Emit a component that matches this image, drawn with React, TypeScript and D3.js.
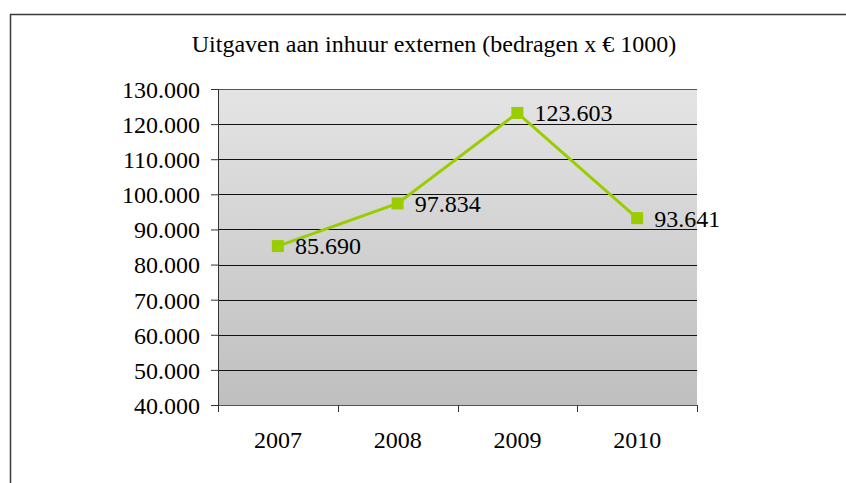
import React from "react";
import * as d3 from "d3";

const years = ["2007", "2008", "2009", "2010"];
const amounts = [85690, 97834, 123603, 93641];
const yTicks = [40000, 50000, 60000, 70000, 80000, 90000, 100000, 110000, 120000, 130000];
const title = "Uitgaven aan inhuur externen (bedragen x € 1000)";

const fmt = (v: number) => d3.format(",")(v).replace(/,/g, ".");

export default function App() {
  const svgRef = React.useRef<SVGSVGElement>(null);

  React.useEffect(() => {
    const width = 846;
    const height = 483;
    const left = 218;
    const right = 697;
    const top = 89;
    const bottom = 405;
    const font = "Liberation Serif";

    const svg = d3
      .select(svgRef.current)
      .attr("width", width)
      .attr("height", height)
      .style("font-family", font);
    svg.selectAll("*").remove();

    // background gradient for plot area
    const grad = svg
      .append("defs")
      .append("linearGradient")
      .attr("id", "plotBg")
      .attr("x1", 0)
      .attr("y1", 0)
      .attr("x2", 0)
      .attr("y2", 1);
    grad.append("stop").attr("offset", "0%").attr("stop-color", "#e4e4e4");
    grad.append("stop").attr("offset", "100%").attr("stop-color", "#bfbfbf");

    // outer chart border
    svg
      .append("path")
      .attr("d", `M10.5,${height} V14.5 H${width}`)
      .attr("fill", "none")
      .attr("stroke", "#3a3a3a")
      .attr("stroke-width", 1.5);

    // scales
    const x = d3.scaleBand().domain(years).range([left, right]);
    const y = d3.scaleLinear().domain([40000, 130000]).range([bottom, top]);

    svg
      .append("rect")
      .attr("x", left)
      .attr("y", top)
      .attr("width", right - left)
      .attr("height", bottom - top)
      .attr("fill", "url(#plotBg)");

    // gridlines
    svg
      .append("g")
      .selectAll("line")
      .data(yTicks.slice(1))
      .enter()
      .append("line")
      .attr("x1", left)
      .attr("x2", right)
      .attr("y1", (d) => Math.round(y(d)) + 0.5)
      .attr("y2", (d) => Math.round(y(d)) + 0.5)
      .attr("stroke", (d) => (d === 130000 ? "#555" : "#111"))
      .attr("stroke-width", 1);

    // y axis
    const yAxis = d3
      .axisLeft(y)
      .tickValues(yTicks)
      .tickSize(7)
      .tickPadding(11)
      .tickFormat((d) => fmt(d as number));
    const gy = svg.append("g").attr("transform", `translate(${left},0)`).call(yAxis);
    gy.attr("font-family", font).attr("font-size", 24);
    gy.select(".domain").attr("stroke", "#333").attr("d", `M0.5,${top}V${bottom}`);
    gy.selectAll(".tick line").attr("stroke", "#333");
    gy.selectAll(".tick text").attr("fill", "#000").attr("dy", "0.35em");

    // x axis
    const xAxis = d3.axisBottom(x).tickSize(0).tickPadding(26);
    const gx = svg.append("g").attr("transform", `translate(0,${bottom})`).call(xAxis);
    gx.attr("font-family", font).attr("font-size", 24);
    gx.select(".domain").attr("stroke", "#555").attr("d", `M${left},0.5H${right}`);
    gx.selectAll(".tick text").attr("fill", "#000");
    const edges = years.map((yr) => x(yr) as number).concat([right]);
    gx.selectAll(".edge")
      .data(edges)
      .enter()
      .append("line")
      .attr("x1", (d) => Math.round(d) + 0.5)
      .attr("x2", (d) => Math.round(d) + 0.5)
      .attr("y1", 0)
      .attr("y2", 7)
      .attr("stroke", "#333");

    const cx = (i: number) => (x(years[i]) as number) + x.bandwidth() / 2;

    // line
    const line = d3
      .line<number>()
      .x((_, i) => cx(i))
      .y((d) => y(d) + 1.5);
    svg
      .append("path")
      .datum(amounts)
      .attr("d", line)
      .attr("fill", "none")
      .attr("stroke", "#9acd00")
      .attr("stroke-width", 3);

    // markers
    svg
      .selectAll(".marker")
      .data(amounts)
      .enter()
      .append("rect")
      .attr("x", (_, i) => cx(i) - 6)
      .attr("y", (d) => y(d) - 4.5)
      .attr("width", 12)
      .attr("height", 12)
      .attr("fill", "#9acd00");

    // value labels
    svg
      .selectAll(".label")
      .data(amounts)
      .enter()
      .append("text")
      .attr("x", (_, i) => cx(i) + 17)
      .attr("y", (d) => y(d) + 1.5)
      .attr("dy", "0.35em")
      .attr("font-family", font)
      .attr("font-size", 24)
      .attr("fill", "#000")
      .text((d) => fmt(d));

    // title
    svg
      .append("text")
      .attr("x", 434)
      .attr("y", 52)
      .attr("text-anchor", "middle")
      .attr("font-family", font)
      .attr("font-size", 24)
      .attr("fill", "#000")
      .text(title);
  }, []);

  return (
    <svg ref={svgRef} style={{ position: "absolute", left: 0, top: 0, background: "#fff" }} />
  );
}
